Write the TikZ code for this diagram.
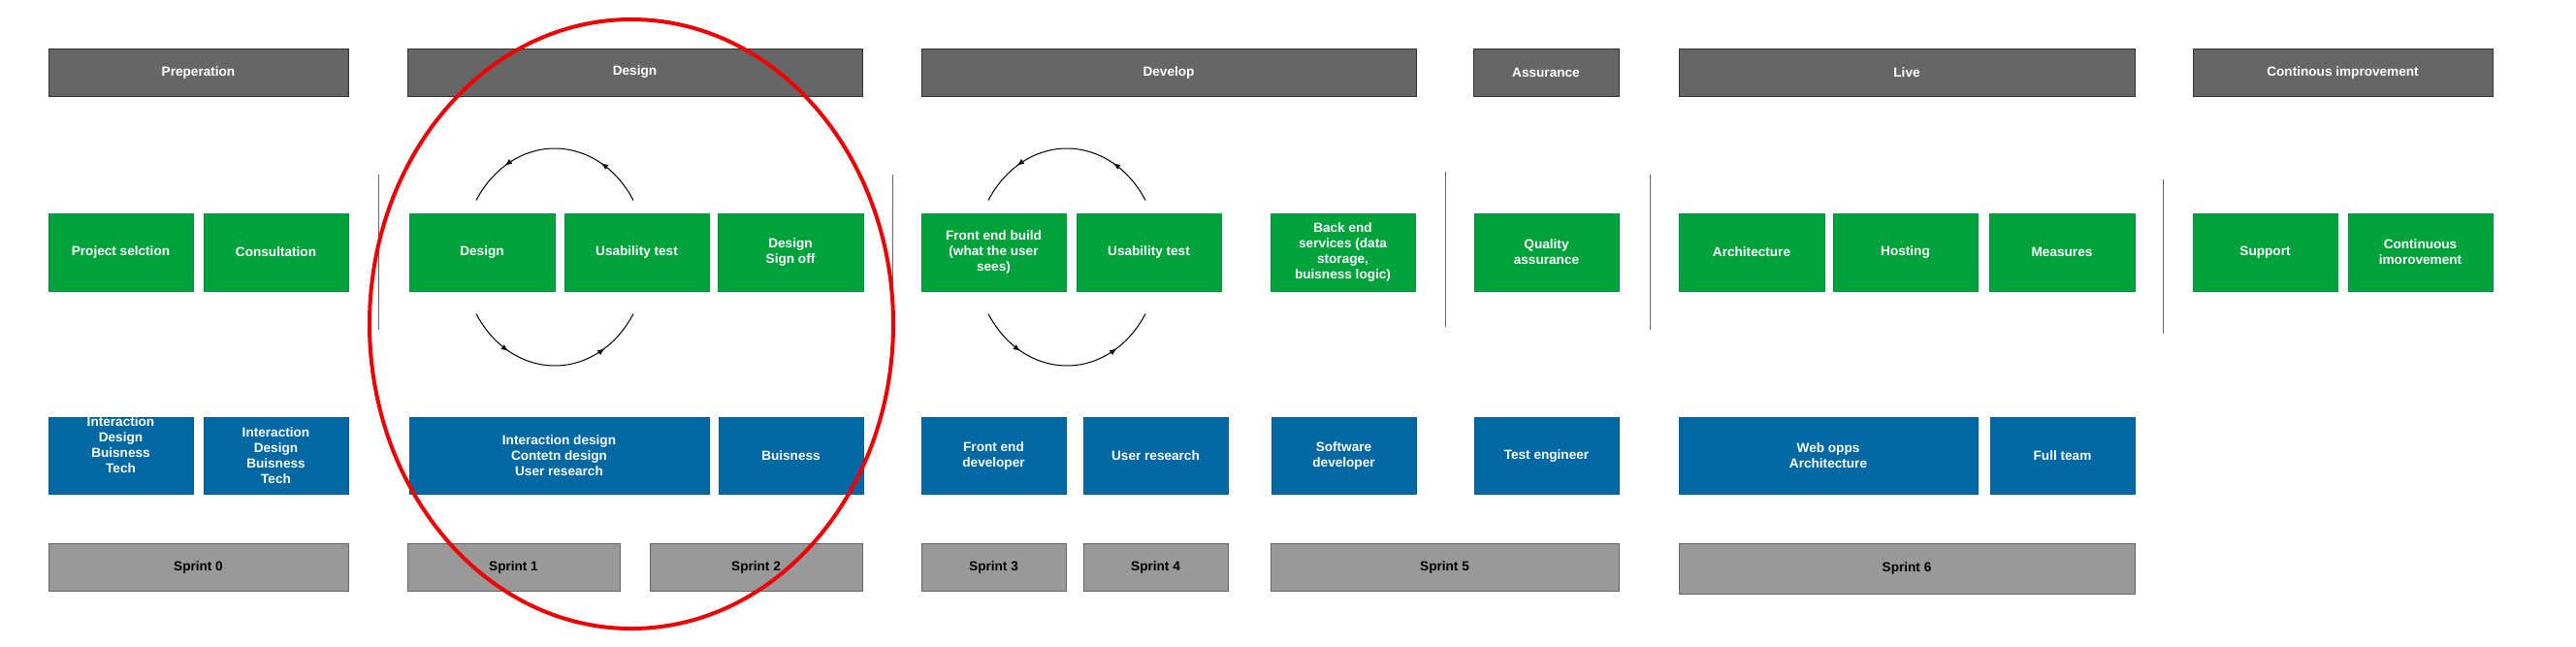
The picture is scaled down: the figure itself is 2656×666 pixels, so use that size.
\documentclass[tikz,border=0pt]{standalone}
\usepackage{fontspec}
\setmainfont{Liberation Sans}
\usetikzlibrary{arrows.meta,decorations.markings}
\definecolor{hdrfill}{HTML}{666666}
\definecolor{hdrline}{HTML}{333333}
\definecolor{grnfill}{HTML}{00A23B}
\definecolor{grnline}{HTML}{00913A}
\definecolor{blufill}{HTML}{0068A3}
\definecolor{bluline}{HTML}{005D92}
\definecolor{sprfill}{HTML}{999999}
\definecolor{sprline}{HTML}{666666}
\definecolor{sepline}{HTML}{666666}
\definecolor{ringred}{RGB}{240,0,0}
\tikzset{
  wh/.style 2 args={minimum width=#1*0.5pt, minimum height=#2*0.5pt},
  basebox/.style={rectangle, inner sep=0pt, align=center, line width=0.5pt,
    font=\fontsize{6.8}{8}\selectfont\bfseries},
  hdrbox/.style={basebox, fill=hdrfill, draw=hdrline, text=white},
  grnbox/.style={basebox, fill=grnfill, draw=grnline, text=white},
  blubox/.style={basebox, fill=blufill, draw=bluline, text=white},
  sprbox/.style={basebox, fill=sprfill, draw=sprline, text=black},
  sepl/.style={draw=sepline, line width=0.5pt},
  cyc/.style={draw=black, line width=0.5pt, postaction={decorate},
    decoration={markings,
      mark=at position 0.25 with {\arrow{Latex[length=3.6pt,width=3pt]}},
      mark=at position 0.77 with {\arrow{Latex[length=3.6pt,width=3pt]}}}},
  ring/.style={draw=ringred, line width=2pt}
}
\begin{document}
\begin{tikzpicture}[x=0.5pt,y=-0.5pt]
\useasboundingbox (0,0) rectangle (2656,666);
% headers
\node[hdrbox, wh={309}{49}] (hprep) at (204.5,74.5) {Preperation};
\node[hdrbox, wh={469}{49}] (hdes) at (654.5,74.5) {Design};
\node[hdrbox, wh={510}{49}] (hdev) at (1205,74.5) {Develop};
\node[hdrbox, wh={150}{49}] (hass) at (1594,74.5) {Assurance};
\node[hdrbox, wh={470}{49}] (hlive) at (1966,74.5) {Live};
\node[hdrbox, wh={309}{49}] (hci) at (2415.5,74.5) {Continous improvement};
% green row
\node[grnbox, wh={149}{80}] (g1) at (124.5,260) {Project selction};
\node[grnbox, wh={149}{80}] (g2) at (284.5,260) {Consultation};
\node[grnbox, wh={150}{80}] (g3) at (497,260) {Design};
\node[grnbox, wh={149}{80}] (g4) at (656.5,260) {Usability test};
\node[grnbox, wh={150}{80}] (g5) at (815,260) {Design\\Sign off};
\node[grnbox, wh={149}{80}] (g6) at (1024.5,260) {Front end build\\(what the user\\sees)};
\node[grnbox, wh={149}{80}] (g7) at (1184.5,260) {Usability test};
\node[grnbox, wh={149}{80}] (g8) at (1384.5,260) {Back end\\services (data\\storage,\\buisness logic)};
\node[grnbox, wh={149}{80}] (g9) at (1594.5,260) {Quality\\assurance};
\node[grnbox, wh={150}{80}] (g10) at (1806,260) {Architecture};
\node[grnbox, wh={149}{80}] (g11) at (1964.5,260) {Hosting};
\node[grnbox, wh={150}{80}] (g12) at (2126,260) {Measures};
\node[grnbox, wh={149}{80}] (g13) at (2335.5,260) {Support};
\node[grnbox, wh={149}{80}] (g14) at (2495.5,260) {Continuous\\imorovement};
% blue row
\node[blubox, wh={149}{79}] (b1) at (124.5,469.5) {};
\node[basebox, text=white] (b1t) at (124.5,459) {Interaction\\Design\\Buisness\\Tech};
\node[blubox, wh={149}{79}] (b2) at (284.5,469.5) {Interaction\\Design\\Buisness\\Tech};
\node[blubox, wh={309}{79}] (b3) at (576.5,469.5) {Interaction design\\Contetn design\\User research};
\node[blubox, wh={149}{79}] (b4) at (815.5,469.5) {Buisness};
\node[blubox, wh={149}{79}] (b5) at (1024.5,469.5) {Front end\\developer};
\node[blubox, wh={149}{79}] (b6) at (1191.5,469.5) {User research};
\node[blubox, wh={149}{79}] (b7) at (1385.5,469.5) {Software\\developer};
\node[blubox, wh={149}{79}] (b8) at (1594.5,469.5) {Test engineer};
\node[blubox, wh={308}{79}] (b9) at (1885,469.5) {Web opps\\Architecture};
\node[blubox, wh={149}{79}] (b10) at (2126.5,469.5) {Full team};
% sprint row
\node[sprbox, wh={309}{49}] (s0) at (204.5,584.5) {Sprint 0};
\node[sprbox, wh={219}{49}] (s1) at (529.5,584.5) {Sprint 1};
\node[sprbox, wh={219}{49}] (s2) at (779.5,584.5) {Sprint 2};
\node[sprbox, wh={149}{49}] (s3) at (1024.5,584.5) {Sprint 3};
\node[sprbox, wh={149}{49}] (s4) at (1191.5,584.5) {Sprint 4};
\node[sprbox, wh={359}{49}] (s5) at (1489.5,584.5) {Sprint 5};
\node[sprbox, wh={470}{52}] (s6) at (1966,586) {Sprint 6};
% separators
\coordinate (p1a) at (390,180); \coordinate (p1b) at (390,340);
\coordinate (p2a) at (920,180); \coordinate (p2b) at (920,340);
\coordinate (p3a) at (1490,177); \coordinate (p3b) at (1490,337);
\coordinate (p4a) at (1701,180); \coordinate (p4b) at (1701,340);
\coordinate (p5a) at (2230,185); \coordinate (p5b) at (2230,344);
\draw[sepl] (p1a) -- (p1b);
\draw[sepl] (p2a) -- (p2b);
\draw[sepl] (p3a) -- (p3b);
\draw[sepl] (p4a) -- (p4b);
\draw[sepl] (p5a) -- (p5b);
% cycles
\coordinate (c1t) at (653,206.5); \coordinate (c1b) at (491,323.5);
\coordinate (c2t) at (1181,206.5); \coordinate (c2b) at (1019,323.5);
\draw[cyc] (c1t) arc[start angle=31.5, end angle=148.5, x radius=47.5pt, y radius=56pt];
\draw[cyc] (c1b) arc[start angle=211.5, end angle=328.5, x radius=47.5pt, y radius=56pt];
\draw[cyc] (c2t) arc[start angle=31.5, end angle=148.5, x radius=47.5pt, y radius=56pt];
\draw[cyc] (c2b) arc[start angle=211.5, end angle=328.5, x radius=47.5pt, y radius=56pt];
% red ring
\coordinate (rc) at (651,334);
\draw[ring] (rc) ellipse[x radius=135pt, y radius=157pt];
\end{tikzpicture}
\end{document}
